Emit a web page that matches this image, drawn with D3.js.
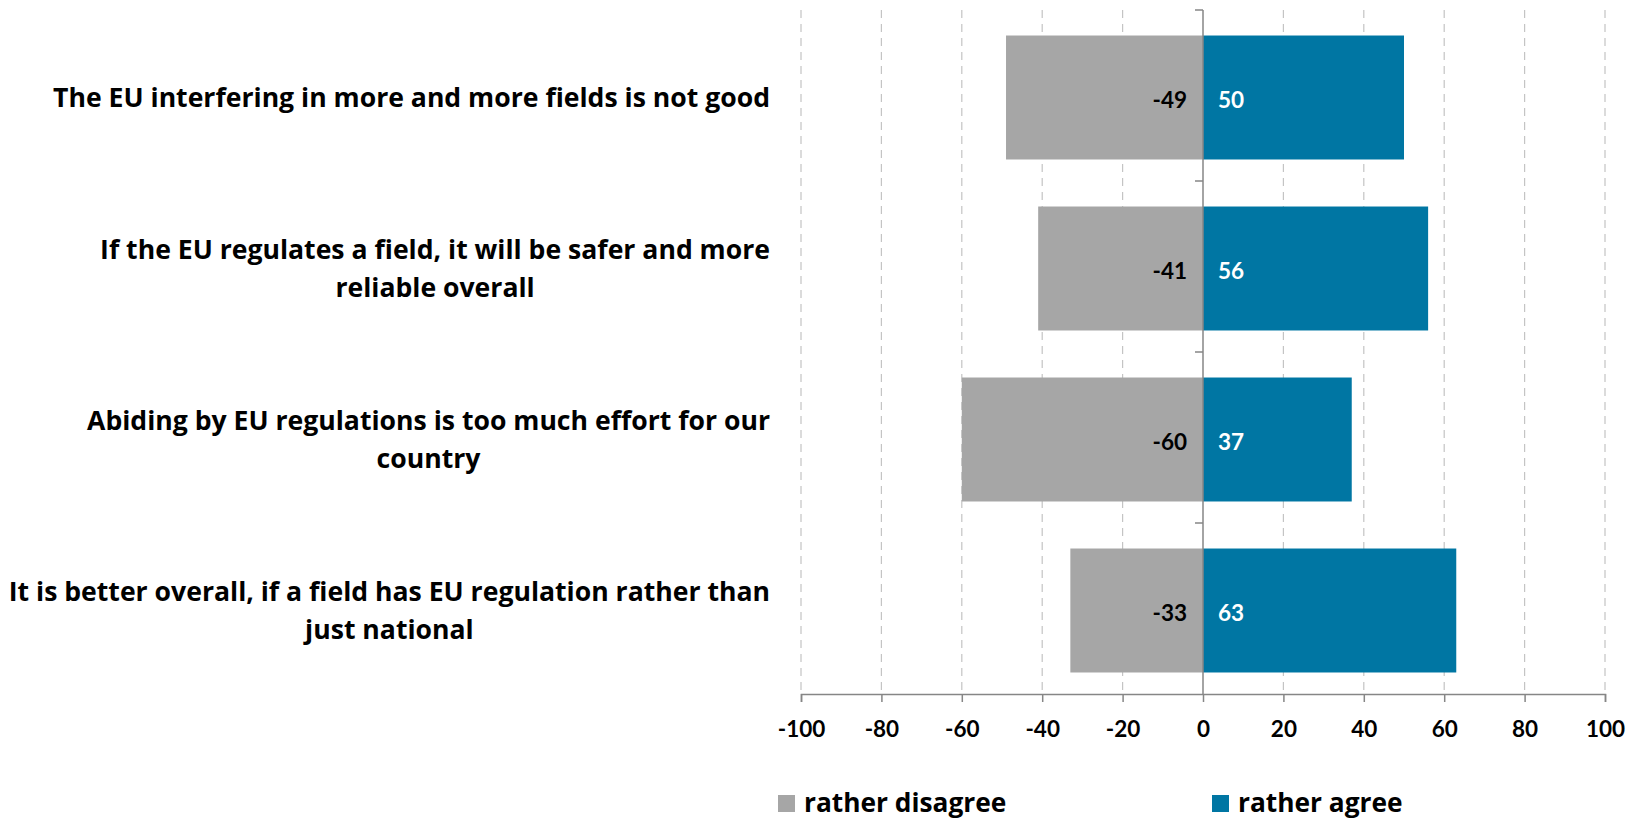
<!DOCTYPE html>
<html>
<head>
<meta charset="utf-8">
<script src="https://cdn.jsdelivr.net/npm/d3@7"></script>
<style>
  body { margin: 0; background: #fff; }
  svg text { font-family: Lato, "Open Sans", sans-serif; font-weight: 700; font-variant-ligatures: none; }
  svg text.wide { font-family: "Open Sans", Lato, sans-serif; }
</style>
</head>
<body>
<div id="chart"></div>
<script>
// statements (top to bottom)
const categories = [
  ["The EU interfering in more and more fields is not good"],
  ["If the EU regulates a field, it will be safer and more", "reliable overall"],
  ["Abiding by EU regulations is too much effort for our", "country"],
  ["It is better overall, if a field has EU regulation rather than", "just national"]
]
const disagree = [-49, -41, -60, -33]
const agree = [50, 56, 37, 63]
const tickValues = [-100, -80, -60, -40, -20, 0, 20, 40, 60, 80, 100]
const seriesNames = ["rather disagree", "rather agree"]
const colors = ["#a6a6a6", "#0076a3"]

const width = 1629, height = 820
const margin = { top: 12, right: 24, bottom: 124, left: 801 }

const svg = d3.select("#chart").append("svg")
  .attr("width", width)
  .attr("height", height)

const x = d3.scaleLinear()
  .domain([-100, 100])
  .range([margin.left, width - margin.right])

const y = d3.scaleBand()
  .domain(d3.range(categories.length))
  .range([margin.top, height - margin.bottom])
  .paddingInner(0.275)
  .paddingOuter(0.1375)

const axisY = 694
const plotTop = 10

/**
 * Gridlines
 */
svg.append("g")
  .selectAll("line")
  .data(tickValues.filter(d => d !== 0))
  .enter().append("line")
  .attr("x1", d => x(d)).attr("x2", d => x(d))
  .attr("y1", plotTop).attr("y2", axisY)
  .attr("stroke", "#c4c4c4")
  .attr("stroke-width", 1.2)
  .attr("stroke-dasharray", "8,6")

/**
 * Bars
 */
const rows = categories.map((c, i) => ({ i, lines: c, neg: disagree[i], pos: agree[i] }))

svg.append("g").selectAll("rect")
  .data(rows)
  .enter().append("rect")
  .attr("x", d => x(d.neg))
  .attr("y", d => y(d.i))
  .attr("width", d => x(0) - x(d.neg))
  .attr("height", y.bandwidth())
  .attr("fill", colors[0])

svg.append("g").selectAll("rect")
  .data(rows)
  .enter().append("rect")
  .attr("x", x(0))
  .attr("y", d => y(d.i))
  .attr("width", d => x(d.pos) - x(0))
  .attr("height", y.bandwidth())
  .attr("fill", colors[1])

// value labels
svg.append("g").selectAll("text")
  .data(rows)
  .enter().append("text")
  .attr("x", x(0) - 16)
  .attr("y", d => y(d.i) + y.bandwidth() / 2 + 3)
  .attr("dy", "0.35em")
  .attr("text-anchor", "end")
  .attr("font-size", 22.5)
  .attr("fill", "#000")
  .text(d => String(d.neg))

svg.append("g").selectAll("text")
  .data(rows)
  .enter().append("text")
  .attr("x", x(0) + 15)
  .attr("y", d => y(d.i) + y.bandwidth() / 2 + 3)
  .attr("dy", "0.35em")
  .attr("font-size", 22.5)
  .attr("fill", "#fff")
  .text(d => String(d.pos))

/**
 * Axes
 */
const xAxis = svg.append("g")
  .attr("transform", `translate(0,${axisY})`)
  .call(d3.axisBottom(x).tickValues(tickValues).tickFormat(d => String(d)).tickSize(8).tickPadding(19))
xAxis.select(".domain").attr("stroke", "#868686").attr("stroke-width", 1.5)
xAxis.selectAll(".tick line").attr("stroke", "#868686").attr("stroke-width", 1.5)
xAxis.selectAll(".tick text")
  .attr("font-size", 22.5)
  .attr("fill", "#000")
  .style("font-family", "Lato, sans-serif")
  .style("font-weight", 700)

// zero line with category ticks
const yBounds = d3.range(categories.length).map(i => plotTop + i * y.step())
const zeroAxis = svg.append("g")
zeroAxis.append("line")
  .attr("x1", x(0)).attr("x2", x(0))
  .attr("y1", plotTop).attr("y2", axisY)
  .attr("stroke", "#868686").attr("stroke-width", 1.5)
zeroAxis.selectAll(".ct")
  .data(yBounds)
  .enter().append("line")
  .attr("x1", x(0) - 8).attr("x2", x(0))
  .attr("y1", d => d).attr("y2", d => d)
  .attr("stroke", "#868686").attr("stroke-width", 1.5)

/**
 * Category labels
 */
const labels = svg.append("g").selectAll("text")
  .data(rows)
  .enter().append("text")
  .attr("class", "wide")
  .attr("text-anchor", "middle")
  .attr("font-size", 26.6)
  .attr("fill", "#000")

labels.each(function (d) {
  const t = d3.select(this)
  const cy = y(d.i) + y.bandwidth() / 2
  const n = d.lines.length
  d.lines.forEach((line, k) => {
    t.append("tspan")
      .attr("y", cy + (k - (n - 1) / 2) * 38)
      .attr("dy", "0.35em")
      .text(line)
  })
})
// right-align block, center the lines within it
labels.each(function (d) {
  const t = d3.select(this)
  const w = d3.max(t.selectAll("tspan").nodes(), n => n.getComputedTextLength())
  t.selectAll("tspan").attr("x", 770 - w / 2)
})

/**
 * Legend
 */
const legend = svg.append("g").selectAll("g")
  .data(seriesNames)
  .enter().append("g")
  .attr("transform", (d, i) => `translate(${i === 0 ? 778 : 1212},795)`)
legend.append("rect")
  .attr("width", 17).attr("height", 17)
  .attr("fill", (d, i) => colors[i])
legend.append("text")
  .attr("class", "wide")
  .attr("x", 26)
  .attr("y", 17)
  .attr("font-size", 26.3)
  .attr("fill", "#000")
  .text(d => d)
</script>
</body>
</html>
